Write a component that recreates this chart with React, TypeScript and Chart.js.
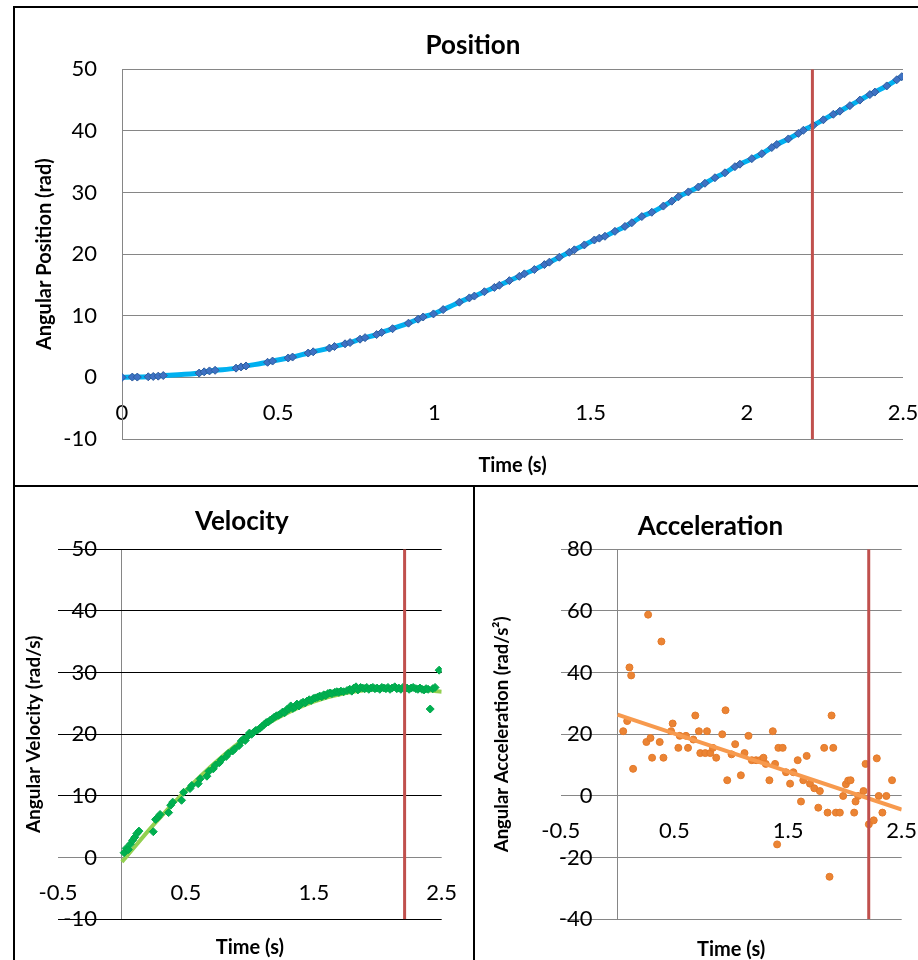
import React, { useEffect, useRef } from "react";
import { Chart, registerables } from "chart.js";

Chart.register(...registerables);

const FONT = "Lato, 'Open Sans', sans-serif";
const GRAY = "#868686";

// ---------- Position ----------
const posTime = [
  0, 0.033, 0.049, 0.084, 0.1, 0.116, 0.132, 0.247, 0.263, 0.28, 0.298, 0.365, 0.381, 0.397,
  0.466, 0.482, 0.532, 0.546, 0.596, 0.612, 0.664, 0.68, 0.714, 0.73, 0.762, 0.778, 0.815,
  0.831, 0.866, 0.917, 0.948, 0.964, 0.997, 1.028, 1.08, 1.112, 1.128, 1.16, 1.192, 1.208,
  1.24, 1.272, 1.288, 1.32, 1.352, 1.368, 1.4, 1.432, 1.448, 1.48, 1.512, 1.528, 1.546, 1.578,
  1.61, 1.632, 1.664, 1.696, 1.733, 1.76, 1.781, 1.813, 1.845, 1.866, 1.898, 1.93, 1.962,
  1.978, 2.016, 2.048, 2.08, 2.096, 2.133, 2.165, 2.181, 2.213, 2.245, 2.277, 2.298, 2.33,
  2.362, 2.394, 2.41, 2.448, 2.48, 2.496,
];
const posValue = [
  0, 0.05, 0.05, 0.1, 0.15, 0.2, 0.3, 0.7, 0.9, 1.05, 1.15, 1.5, 1.7, 1.85,
  2.45, 2.65, 3.15, 3.3, 3.95, 4.15, 4.75, 5.0, 5.45, 5.65, 6.2, 6.45, 6.95,
  7.3, 7.9, 8.8, 9.45, 9.8, 10.3, 11.0, 12.2, 12.9, 13.2, 13.9, 14.6, 14.95,
  15.7, 16.4, 16.8, 17.5, 18.3, 18.7, 19.5, 20.3, 20.7, 21.5, 22.3, 22.6, 22.9, 23.7,
  24.5, 25.1, 26.1, 26.8, 27.8, 28.6, 29.3, 30.1, 30.9, 31.5, 32.4, 33.2, 34.2,
  34.6, 35.5, 36.3, 37.3, 37.8, 38.7, 39.6, 40.1, 40.9, 41.8, 42.7, 43.2, 44.1,
  45.0, 45.9, 46.3, 47.3, 48.3, 48.8,
];
const posXTicks = [0, 0.5, 1, 1.5, 2, 2.5];
const posYTicks = [-10, 0, 10, 20, 30, 40, 50];

// ---------- Velocity ----------
const velTime = [
  0.017, 0.033, 0.05, 0.066, 0.083, 0.1, 0.116, 0.133, 0.245, 0.263, 0.28, 0.298, 0.365,
  0.381, 0.397, 0.466, 0.482, 0.532, 0.546, 0.596, 0.612, 0.664, 0.68, 0.714, 0.73, 0.762,
  0.778, 0.815, 0.831, 0.866, 0.88, 0.917, 0.933, 0.948, 0.964, 0.98, 0.997, 1.013, 1.028,
  1.045, 1.06, 1.08, 1.096, 1.112, 1.128, 1.144, 1.16, 1.176, 1.192, 1.208, 1.224, 1.24,
  1.256, 1.272, 1.288, 1.304, 1.32, 1.336, 1.352, 1.368, 1.384, 1.4, 1.416, 1.432, 1.448,
  1.464, 1.48, 1.496, 1.512, 1.528, 1.546, 1.562, 1.578, 1.594, 1.61, 1.626, 1.642, 1.664,
  1.68, 1.696, 1.712, 1.733, 1.76, 1.781, 1.797, 1.813, 1.83, 1.845, 1.866, 1.882, 1.898,
  1.914, 1.93, 1.946, 1.962, 1.978, 1.995, 2.016, 2.032, 2.048, 2.064, 2.08, 2.096, 2.112,
  2.133, 2.149, 2.165, 2.181, 2.197, 2.213, 2.229, 2.245, 2.261, 2.277, 2.298, 2.314, 2.33,
  2.346, 2.362, 2.378, 2.394, 2.41, 2.43, 2.448, 2.48,
];
const velValue = [
  0.8, 1.5, 1.3, 2.2, 2.8, 3.3, 3.9, 4.3, 4.2, 6.2, 6.5, 7.0, 7.3,
  8.5, 9.0, 9.3, 10.6, 11.2, 11.7, 12.0, 12.8, 13.2, 14.0, 14.4, 15.0, 15.4,
  15.9, 16.4, 16.9, 17.3, 17.6, 18.2, 18.9, 19.2, 19.0, 19.6, 20.2, 20.0, 20.3,
  20.6, 20.7, 21.0, 21.3, 21.6, 21.9, 22.0, 22.3, 22.5, 22.8, 23.0, 23.1, 23.3,
  23.6, 23.5, 24.0, 24.1, 24.6, 24.2, 24.4, 24.9, 24.6, 25.0, 25.2, 25.1, 25.4,
  25.6, 25.5, 25.8, 25.9, 26.0, 26.2, 26.1, 26.4, 26.3, 26.6, 26.7, 26.6, 26.8,
  26.9, 26.8, 27.0, 26.9, 27.1, 27.3, 27.0, 27.5, 27.7, 27.2, 27.6, 27.5, 27.4,
  27.6, 27.3, 27.5, 27.6, 27.4, 27.5, 27.3, 27.6, 27.5, 27.4, 27.6, 27.3, 27.5,
  27.7, 27.4, 27.5, 27.3, 27.6, 27.4, 27.5, 27.3, 27.5, 27.6, 27.4, 27.3, 27.5,
  27.3, 27.2, 27.4, 27.3, 24.1, 27.4, 27.6, 30.4,
];
const velTrendTime = [0, 0.25, 0.5, 0.75, 1.0, 1.25, 1.5, 1.75, 2.0, 2.25, 2.5];
const velTrendValue = [-0.7, 5.4, 10.9, 15.8, 19.9, 23.0, 25.3, 26.7, 27.3, 27.4, 26.9];
const velXTicks = [-0.5, 0.5, 1.5, 2.5];
const velYTicks = [-10, 0, 10, 20, 30, 40, 50];

// ---------- Acceleration ----------
const accTime = [
  0.05, 0.085, 0.105, 0.12, 0.137, 0.254, 0.269, 0.29, 0.304, 0.371, 0.386, 0.404, 0.471,
  0.485, 0.535, 0.547, 0.602, 0.62, 0.667, 0.684, 0.716, 0.728, 0.772, 0.787, 0.816, 0.839,
  0.868, 0.921, 0.95, 0.965, 1.003, 1.035, 1.085, 1.117, 1.152, 1.181, 1.219, 1.254, 1.284,
  1.304, 1.336, 1.366, 1.386, 1.404, 1.415, 1.453, 1.482, 1.518, 1.547, 1.585, 1.614, 1.634,
  1.664, 1.693, 1.731, 1.766, 1.78, 1.818, 1.848, 1.865, 1.883, 1.898, 1.921, 1.956, 1.985,
  2.009, 2.029, 2.05, 2.082, 2.094, 2.117, 2.164, 2.182, 2.211, 2.254, 2.281, 2.298, 2.33,
  2.365, 2.415,
];
const accValue = [
  21.0, 24.3, 41.7, 39.1, 8.8, 17.5, 58.8, 18.8, 12.4, 17.5, 50.1, 12.4, 21.0,
  23.5, 15.6, 19.5, 19.5, 15.6, 18.3, 26.1, 21.0, 13.9, 13.9, 21.0, 13.9, 15.6,
  12.4, 20.0, 27.8, 5.1, 13.5, 16.8, 6.7, 13.9, 19.5, 11.6, 11.6, 11.6, 12.4,
  10.4, 5.1, 21.0, 10.4, -15.7, 15.6, 15.6, 7.7, 4.0, 7.7, 11.6, -1.8, 5.1,
  13.0, 4.0, 2.5, -3.8, 1.6, 15.6, -5.4, -26.2, 26.1, 15.6, -5.4, -5.4, 0,
  3.8, 5.0, 5.1, -5.4, -1.8, 0, 1.6, 10.4, -9.2, -7.9, 12.2, 0, -5.4,
  0, 5.1,
];
const accTrendTime = [0, 2.5];
const accTrendValue = [26.4, -4.4];
const accXTicks = [-0.5, 0.5, 1.5, 2.5];
const accYTicks = [-40, -20, 0, 20, 40, 60, 80];

const markerTime = 2.21;
const axisCrossValue = 0;

type Panel = {
  title: string;
  yTitle: string;
  xTicks: number[];
  yTicks: number[];
  crossY: boolean;
  gridColor: string;
  zeroColor: string;
  datasets: any[];
  padLeft: number;
  padRight: number;
  yWidth: number;
  yTitleOffset: number;
  yTitleSize: number;
  titlePad: { top: number; bottom: number };
  xHeight: number;
  xTitleBottom: number;
  plotWidthPx: number;
};

const pts = (xs: number[], ys: number[]) => xs.map((x, i) => ({ x, y: ys[i] }));

const markerDataset = (yTicks: number[]) => ({
  data: [
    { x: markerTime, y: yTicks[0] },
    { x: markerTime, y: yTicks[yTicks.length - 1] },
  ],
  showLine: true,
  borderColor: "#C0504D",
  borderWidth: 3,
  pointRadius: 0,
  order: 0,
  xAxisID: "x",
  yAxisID: "y",
});

const tickFont = { family: FONT, size: 22 };
const fmt = (v: any) => String(v);
const LABEL_GAP_PX = 25;

function makeConfig(p: Panel): any {
  const setTicks = (arr: number[]) => (s: any) => {
    s.ticks = arr.map((v) => ({ value: v }));
  };
  const zeroPad = (s: any) => {
    s.paddingLeft = 0;
    s.paddingRight = 0;
    s.paddingTop = 0;
    s.paddingBottom = 0;
  };
  const xMin = p.xTicks[0];
  const xMax = p.xTicks[p.xTicks.length - 1];
  const yMin = p.yTicks[0];
  const yMax = p.yTicks[p.yTicks.length - 1];
  const scales: any = {
    x: {
      type: "linear",
      axis: "x",
      position: "bottom",
      min: xMin,
      max: xMax,
      // for crossing charts the only vertical line is the y-axis at x = 0
      afterBuildTicks: setTicks(p.crossY ? [axisCrossValue] : p.xTicks),
      ticks: { display: false },
      grid: { display: p.crossY, drawTicks: false, color: GRAY, lineWidth: 1 },
      border: { display: false },
      title: {
        display: true,
        text: "Time (s)",
        color: "#000",
        font: { family: FONT, size: 20, weight: "bold" },
        padding: { top: 0, bottom: p.xTitleBottom },
      },
      afterFit: (s: any) => {
        s.height = p.xHeight;
      },
    },
    xLab: {
      type: "linear",
      axis: "x",
      position: { y: axisCrossValue },
      min: xMin,
      max: xMax,
      afterBuildTicks: setTicks(p.xTicks),
      ticks: {
        color: "#000",
        font: tickFont,
        padding: 22,
        autoSkip: false,
        maxRotation: 0,
        callback: fmt,
      },
      grid: { display: false, drawTicks: false },
      border: { display: false },
      afterFit: zeroPad,
    },
    y: {
      type: "linear",
      axis: "y",
      position: "left",
      min: yMin,
      max: yMax,
      afterBuildTicks: setTicks(p.yTicks),
      ticks: {
        display: !p.crossY,
        color: "#000",
        font: tickFont,
        padding: LABEL_GAP_PX,
        callback: fmt,
      },
      grid: {
        color: (ctx: any) =>
          ctx.tick && ctx.tick.value === 0 ? p.zeroColor : p.gridColor,
        lineWidth: 1,
        drawTicks: false,
      },
      border: { display: !p.crossY, color: GRAY, width: 1 },
      title: {
        display: true,
        text: p.yTitle,
        color: "#000",
        font: { family: FONT, size: p.yTitleSize, weight: "bold" },
        padding: { top: p.yTitleOffset, bottom: 0 },
      },
      afterFit: (s: any) => {
        s.width = p.yWidth;
      },
    },
  };
  if (p.crossY) {
    // labels sit left of the y-axis (x = 0), inside the plot, like Excel
    const gapValue = (LABEL_GAP_PX * (xMax - xMin)) / p.plotWidthPx;
    scales.yLab = {
      type: "linear",
      axis: "y",
      position: { x: axisCrossValue - gapValue },
      min: yMin,
      max: yMax,
      afterBuildTicks: setTicks(p.yTicks),
      ticks: {
        color: "#000",
        font: tickFont,
        padding: 0,
        callback: fmt,
      },
      grid: { display: false, drawTicks: false },
      border: { display: false },
      afterFit: zeroPad,
    };
  }
  return {
    type: "scatter",
    data: { datasets: p.datasets },
    options: {
      animation: false,
      responsive: false,
      events: [],
      layout: { padding: { left: p.padLeft, right: p.padRight, top: 0, bottom: 0 } },
      plugins: {
        legend: { display: false },
        tooltip: { enabled: false },
        title: {
          display: true,
          text: p.title,
          color: "#000",
          font: { family: FONT, size: 26, weight: "bold" },
          padding: p.titlePad,
        },
      },
      scales,
    },
  };
}

const positionPanel: Panel = {
  title: "Position",
  yTitle: "Angular Position (rad)",
  xTicks: posXTicks,
  yTicks: posYTicks,
  crossY: false,
  gridColor: GRAY,
  zeroColor: GRAY,
  datasets: [
    {
      data: pts(posTime, posValue),
      showLine: true,
      borderColor: "#00B0F0",
      borderWidth: 5,
      cubicInterpolationMode: "monotone",
      pointStyle: "rectRot",
      pointRadius: 4,
      pointBackgroundColor: "#3E72C4",
      pointBorderColor: "#2E5C9E",
      pointBorderWidth: 1,
      order: 1,
      xAxisID: "x",
      yAxisID: "y",
    },
    markerDataset(posYTicks),
  ],
  padLeft: 28,
  padRight: 15,
  yWidth: 79,
  yTitleOffset: -10,
  yTitleSize: 20,
  titlePad: { top: 22.4, bottom: 7.7 },
  xHeight: 47,
  xTitleBottom: 8.5,
  plotWidthPx: 781,
};

const velocityPanel: Panel = {
  title: "Velocity",
  yTitle: "Angular Velocity (rad/s)",
  xTicks: velXTicks,
  yTicks: velYTicks,
  crossY: true,
  gridColor: "#000000",
  zeroColor: GRAY,
  datasets: [
    {
      data: pts(velTime, velValue),
      showLine: false,
      pointStyle: "rectRot",
      pointRadius: 4,
      pointBackgroundColor: "#00B050",
      pointBorderColor: "#00A84C",
      pointBorderWidth: 1,
      order: 1,
      xAxisID: "x",
      yAxisID: "y",
    },
    {
      data: pts(velTrendTime, velTrendValue),
      showLine: true,
      borderColor: "#92D050",
      borderWidth: 4,
      cubicInterpolationMode: "monotone",
      pointRadius: 0,
      order: 2,
      xAxisID: "x",
      yAxisID: "y",
    },
    markerDataset(velYTicks),
  ],
  padLeft: 27,
  padRight: 31.3,
  yWidth: 16,
  yTitleOffset: -20,
  yTitleSize: 19,
  titlePad: { top: 18.1, bottom: 12 },
  xHeight: 40.7,
  xTitleBottom: 0.5,
  plotWidthPx: 383.7,
};

const accelerationPanel: Panel = {
  title: "Acceleration",
  yTitle: "Angular Acceleration (rad/s²)",
  xTicks: accXTicks,
  yTicks: accYTicks,
  crossY: true,
  gridColor: GRAY,
  zeroColor: GRAY,
  datasets: [
    {
      data: pts(accTime, accValue),
      showLine: false,
      pointStyle: "circle",
      pointRadius: 3.5,
      pointBackgroundColor: "#EB8434",
      pointBorderColor: "#E47A2A",
      pointBorderWidth: 1,
      order: 2,
      xAxisID: "x",
      yAxisID: "y",
    },
    {
      data: pts(accTrendTime, accTrendValue),
      showLine: true,
      borderColor: "#F79A4E",
      borderWidth: 4,
      pointRadius: 0,
      order: 1,
      xAxisID: "x",
      yAxisID: "y",
    },
    markerDataset(accYTicks),
  ],
  padLeft: 43.3,
  padRight: 16.3,
  yWidth: 41.4,
  yTitleOffset: -28,
  yTitleSize: 18.5,
  titlePad: { top: 23.1, bottom: 7 },
  xHeight: 40.7,
  xTitleBottom: -1.5,
  plotWidthPx: 341,
};

function PanelChart(props: { panel: Panel; left: number; top: number; width: number; height: number }) {
  const ref = useRef<HTMLCanvasElement | null>(null);
  useEffect(() => {
    if (!ref.current) return;
    const chart = new Chart(ref.current, makeConfig(props.panel));
    return () => chart.destroy();
  }, []);
  return (
    <canvas
      ref={ref}
      width={props.width}
      height={props.height}
      style={{
        position: "absolute",
        left: props.left,
        top: props.top,
        width: props.width,
        height: props.height,
      }}
    />
  );
}

const line = (left: number, top: number, width: number, height: number) => (
  <div
    style={{
      position: "absolute",
      left,
      top,
      width,
      height,
      background: "#000",
      zIndex: 2,
    }}
  />
);

export default function App() {
  return (
    <div
      style={{
        position: "absolute",
        left: 0,
        top: 0,
        width: 918,
        height: 960,
        overflow: "hidden",
        background: "#fff",
      }}
    >
      <PanelChart panel={positionPanel} left={15} top={8} width={903} height={478} />
      <PanelChart panel={velocityPanel} left={15} top={488} width={458} height={472} />
      <PanelChart panel={accelerationPanel} left={476} top={488} width={442} height={472} />
      {line(13, 6, 905, 2)}
      {line(13, 6, 2, 954)}
      {line(13, 485, 905, 2)}
      {line(473, 486, 2, 474)}
    </div>
  );
}
